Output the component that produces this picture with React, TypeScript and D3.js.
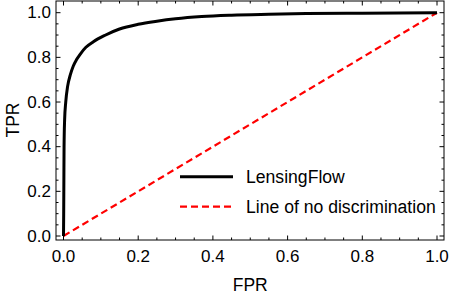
import React from "react";
import * as d3 from "d3";

// ROC curve samples (false positive rate vs true positive rate)
const fpr = [0, 0.0005, 0.001, 0.0015, 0.003, 0.006, 0.011, 0.018, 0.026, 0.035, 0.045, 0.06, 0.08, 0.11, 0.15, 0.2, 0.25, 0.3, 0.37, 0.45, 0.55, 0.65, 0.8, 1.0];
const tpr = [0, 0.1, 0.25, 0.4, 0.52, 0.6, 0.67, 0.72, 0.76, 0.79, 0.815, 0.845, 0.87, 0.898, 0.927, 0.948, 0.962, 0.973, 0.983, 0.989, 0.993, 0.996, 0.998, 1.0];
const chance = [0, 1];
const majorTicks = [0, 0.2, 0.4, 0.6, 0.8, 1.0];
const tickLabels = ["0.0", "0.2", "0.4", "0.6", "0.8", "1.0"];
const legendLabels = ["LensingFlow", "Line of no discrimination"];

const W = 450;
const H = 295;
const frame = { left: 56, right: 444, top: 1, bottom: 240 };
const font = "'Liberation Sans', Arial, Helvetica, sans-serif";

export default function App() {
  const x = d3.scaleLinear().domain([0, 1]).range([63.5, 437]);
  const y = d3.scaleLinear().domain([0, 1]).range([236, 12.7]);

  const rocPts: [number, number][] = fpr.map((f, i) => [f, tpr[i]]);
  const line = d3
    .line<[number, number]>()
    .x((d) => x(d[0]))
    .y((d) => y(d[1]))
    .curve(d3.curveMonotoneX);
  const diag = d3
    .line<number>()
    .x((d) => x(d))
    .y((d) => y(d));

  const minor = d3.range(0, 1.0001, 0.05);

  const ticks: JSX.Element[] = [];
  minor.forEach((v, i) => {
    const isMajor = majorTicks.some((m) => Math.abs(m - v) < 1e-6);
    const len = isMajor ? 4.5 : 2.5;
    const px = x(v);
    const py = y(v);
    ticks.push(
      <line key={`b${i}`} x1={px} x2={px} y1={frame.bottom} y2={frame.bottom - len} />,
      <line key={`t${i}`} x1={px} x2={px} y1={frame.top} y2={frame.top + len} />,
      <line key={`l${i}`} x1={frame.left} x2={frame.left + len} y1={py} y2={py} />,
      <line key={`r${i}`} x1={frame.right} x2={frame.right - len} y1={py} y2={py} />
    );
  });

  return (
    <svg
      width={W}
      height={H}
      style={{ position: "absolute", left: 0, top: 0, background: "#fff" }}
      fontFamily={font}
    >
      <rect x={0} y={0} width={W} height={H} fill="#fff" />
      {/* chance diagonal */}
      <path d={diag(chance) || ""} fill="none" stroke="#ff0000" strokeWidth={2.2} strokeDasharray="7,4" />
      {/* ROC curve */}
      <path d={line(rocPts) || ""} fill="none" stroke="#000" strokeWidth={3} strokeLinejoin="round" />

      {/* frame */}
      <rect
        x={frame.left}
        y={frame.top}
        width={frame.right - frame.left}
        height={frame.bottom - frame.top}
        fill="none"
        stroke="#000"
        strokeWidth={1}
      />
      <g stroke="#000" strokeWidth={1}>{ticks}</g>

      {/* tick labels */}
      <g fontSize={17} fill="#000">
        {majorTicks.map((v, i) => (
          <text key={`xl${i}`} x={x(v)} y={262} textAnchor="middle">
            {tickLabels[i]}
          </text>
        ))}
        {majorTicks.map((v, i) => (
          <text key={`yl${i}`} x={51} y={y(v)} textAnchor="end" dominantBaseline="central">
            {tickLabels[i]}
          </text>
        ))}
      </g>

      {/* axis titles */}
      <text x={x(0.5)} y={290.5} textAnchor="middle" fontSize={17.5}>
        FPR
      </text>
      <text transform={`translate(19.3,120) rotate(-90)`} textAnchor="middle" fontSize={17.5}>
        TPR
      </text>

      {/* legend */}
      <line x1={180} x2={233} y1={176.7} y2={176.7} stroke="#000" strokeWidth={3} />
      <text x={246} y={183.3} fontSize={17.6}>
        {legendLabels[0]}
      </text>
      <line x1={180} x2={233} y1={206.7} y2={206.7} stroke="#ff0000" strokeWidth={2.2} strokeDasharray="7,4" />
      <text x={246} y={212.7} fontSize={17.6}>
        {legendLabels[1]}
      </text>
    </svg>
  );
}
